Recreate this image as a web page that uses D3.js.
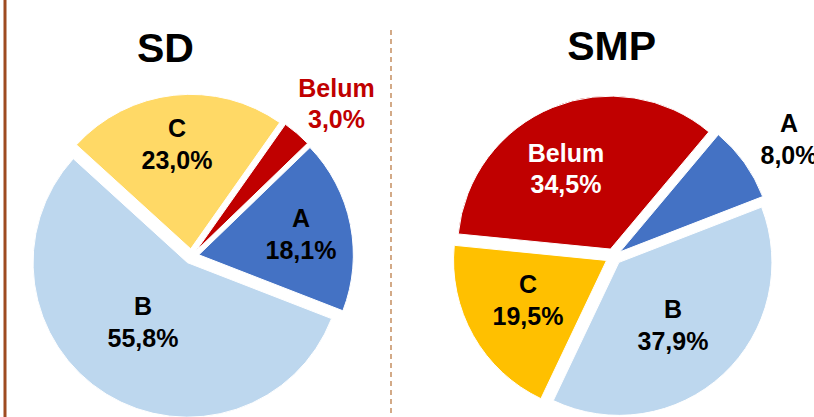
<!DOCTYPE html>
<html>
<head>
<meta charset="utf-8">
<script src="https://cdn.jsdelivr.net/npm/d3@7"></script>
<style>
  html, body { margin: 0; padding: 0; background: #fff; }
  svg { display: block; font-family: "Liberation Sans", Arial, sans-serif; }
</style>
</head>
<body>
<svg id="chart" width="814" height="417"></svg>
<script>
// ---- Data ----
const categories = ["A", "B", "C", "Belum"];
const sdValues  = [18.1, 55.8, 23.0, 3.0];
const smpValues = [8.0, 37.9, 19.5, 34.5];
const sdLabels  = ["18,1%", "55,8%", "23,0%", "3,0%"];
const smpLabels = ["8,0%", "37,9%", "19,5%", "34,5%"];
const titles = ["SD", "SMP"];

// ---- Styles ----
const sdColors  = ["#4472C4", "#BDD7EE", "#FFD966", "#C00000"];
const smpColors = ["#4472C4", "#BDD7EE", "#FFC000", "#C00000"];

const svg = d3.select("#chart");
const deg = Math.PI / 180;

// frame decorations
svg.append("line").attr("x1", 5).attr("x2", 5).attr("y1", 0).attr("y2", 417)
  .attr("stroke", "#9E4B20").attr("stroke-width", 3);
svg.append("line").attr("x1", 391).attr("x2", 391).attr("y1", 30).attr("y2", 417)
  .attr("stroke", "#C8956A").attr("stroke-width", 1.6).attr("stroke-dasharray", "5,4");

const pies = [
  { title: titles[0], values: sdValues, labels: sdLabels, colors: sdColors,
    cx: 191.5, cy: 256.3, r: 154.5, d: 7.5, start: 46, titleX: 165.5, titleY: 62,
    labelPos: [ [301, 227, "#000"], [143, 315, "#000"], [177, 137, "#000"], [336.5, 96.7, "#C00000"] ] },
  { title: titles[1], values: smpValues, labels: smpLabels, colors: smpColors,
    cx: 613.5, cy: 256.5, r: 153, d: 8, start: 40, titleX: 611.7, titleY: 60,
    labelPos: [ [789, 132.3, "#000"], [673, 318.3, "#000"], [528, 293.3, "#000"], [566, 161.7, "#fff"] ] }
];

pies.forEach(p => {
  const pie = d3.pie().sort(null).value(v => v)
    .startAngle(p.start * deg).endAngle(p.start * deg + 2 * Math.PI);
  const arcs = pie(p.values);
  const arc = d3.arc().innerRadius(0).outerRadius(p.r);
  const g = svg.append("g").attr("transform", `translate(${p.cx},${p.cy})`);
  g.selectAll("path").data(arcs).join("path")
    .attr("d", arc)
    .attr("fill", (d, i) => p.colors[i])
    .attr("stroke", "#fff").attr("stroke-width", 1)
    .attr("transform", d => {
      const a = (d.startAngle + d.endAngle) / 2;
      return `translate(${p.d * Math.sin(a)},${-p.d * Math.cos(a)})`;
    });

  svg.append("text").attr("x", p.titleX).attr("y", p.titleY)
    .attr("text-anchor", "middle").attr("font-size", 41).attr("font-weight", "bold")
    .attr("fill", "#000").text(p.title);

  categories.forEach((c, i) => {
    const [x, y, col] = p.labelPos[i];
    const t = svg.append("text").attr("text-anchor", "middle")
      .attr("font-size", 25).attr("font-weight", "bold").attr("fill", col);
    t.append("tspan").attr("x", x).attr("y", y).text(c);
    t.append("tspan").attr("x", x).attr("y", y + 31.5).text(p.labels[i]);
  });
});
</script>
</body>
</html>
